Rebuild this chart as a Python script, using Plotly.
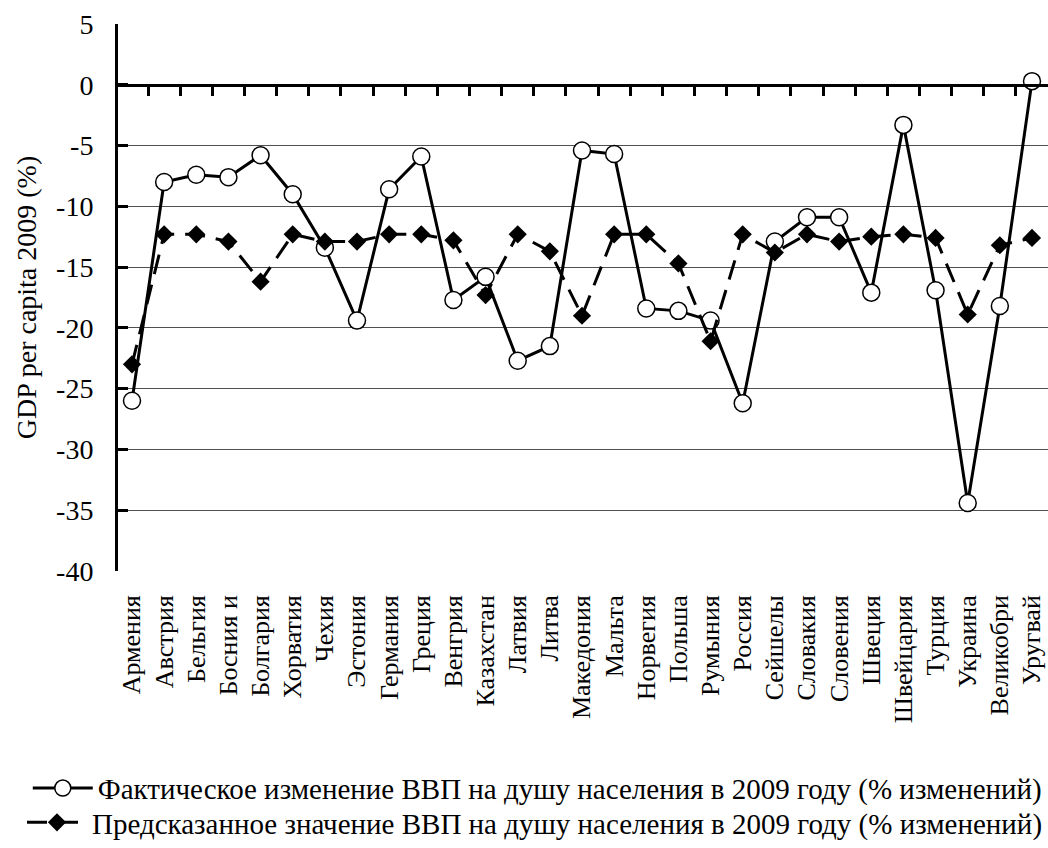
import plotly.graph_objects as go

countries = ["Армения", "Австрия", "Бельгия", "Босния и", "Болгария", "Хорватия", "Чехия",
             "Эстония", "Германия", "Греция", "Венгрия", "Казахстан", "Латвия", "Литва",
             "Македония", "Мальта", "Норвегия", "Польша", "Румыния", "Россия", "Сейшелы",
             "Словакия", "Словения", "Швеция", "Швейцария", "Турция", "Украина",
             "Великобри", "Уругвай"]

actual = [-26.0, -8.0, -7.4, -7.6, -5.8, -9.0, -13.4, -19.4, -8.6, -5.9, -17.7, -15.8,
          -22.7, -21.5, -5.4, -5.7, -18.4, -18.6, -19.4, -26.2, -12.9, -10.9, -10.9,
          -17.1, -3.3, -16.9, -34.4, -18.2, 0.3]

predicted = [-23.0, -12.3, -12.3, -12.9, -16.2, -12.3, -12.9, -12.9, -12.3, -12.3, -12.8,
             -17.3, -12.3, -13.7, -19.0, -12.3, -12.3, -14.7, -21.1, -12.3, -13.8, -12.3,
             -12.9, -12.5, -12.3, -12.6, -18.9, -13.2, -12.6]

y_ticks = [5, 0, -5, -10, -15, -20, -25, -30, -35, -40]
y_ticktext = ["5", "0", "-5", "-10", "-15", "-20", "-25", "-30", "-35", "-40"]

name_actual = "Фактическое изменение ВВП на душу населения в 2009 году (% изменений)"
name_pred = "Предсказанное значение ВВП на душу населения в 2009 году (% изменений)"

FONT = "Liberation Serif, 'Times New Roman', serif"
idx = list(range(len(countries)))

fig = go.Figure()
fig.add_trace(go.Scatter(
    x=idx, y=actual, name=name_actual, mode="lines+markers", legend="legend",
    line=dict(color="black", width=3),
    marker=dict(symbol="circle", size=17, color="white", line=dict(color="black", width=1.5)),
    cliponaxis=False,
))
fig.add_trace(go.Scatter(
    x=idx, y=predicted, name=name_pred, mode="lines+markers", legend="legend2",
    line=dict(color="black", width=3, dash="20px,11px"),
    marker=dict(symbol="diamond", size=14, color="black", line=dict(color="black", width=0)),
    cliponaxis=False,
))
# invisible trace to carry the zero-line axis with boundary ticks
fig.add_trace(go.Scatter(x=idx, y=actual, xaxis="x2", mode="none", showlegend=False,
                         hoverinfo="skip", opacity=0))

xr = [-0.4356, 28.498]
zero_pos = (0 - (-40)) / 45.0

legend_common = dict(xanchor="left", yanchor="middle",
                     font=dict(family=FONT, size=29, color="black"),
                     bgcolor="rgba(0,0,0,0)", itemwidth=60)

fig.update_layout(
    width=1048, height=848,
    margin=dict(l=118, r=0, t=24, b=271),
    paper_bgcolor="white", plot_bgcolor="white",
    font=dict(family=FONT, size=28, color="black"),
    showlegend=True,
    hovermode=False,
    legend=dict(x=-0.097, y=-0.397, **legend_common),
    legend2=dict(x=-0.097, y=-0.461, **legend_common),
    xaxis=dict(
        range=xr, tickmode="array", tickvals=idx, ticktext=countries,
        tickangle=-90, showgrid=False, zeroline=False, showline=False, ticks="",
        ticklabelstandoff=18, ticklabeloverflow="allow",
        tickfont=dict(family=FONT, size=26, color="black"), automargin=False,
    ),
    xaxis2=dict(
        range=xr, overlaying="x", anchor="free", position=zero_pos, side="bottom",
        showline=True, linecolor="black", linewidth=3,
        tickmode="array", tickvals=[i + 0.5 for i in idx[:-1]],
        ticks="outside", ticklen=9, tickwidth=3, tickcolor="black",
        showticklabels=False, showgrid=False, zeroline=False, automargin=False,
    ),
    yaxis=dict(
        range=[-40, 5], tickmode="array", tickvals=y_ticks, ticktext=y_ticktext,
        showgrid=True, gridcolor="#505050", gridwidth=1, zeroline=False,
        showline=True, linecolor="black", linewidth=3,
        ticks="inside", ticklen=10, tickwidth=3, tickcolor="black",
        ticklabelstandoff=16, automargin=False,
        tickfont=dict(family=FONT, size=28, color="black"),
        title=dict(text="GDP per capita 2009 (%)", font=dict(family=FONT, size=28, color="black"),
                   standoff=12),
    ),
)

fig.write_html("out.html", config={"displayModeBar": False, "staticPlot": True},
               post_script="document.body.style.margin='0';document.body.style.overflow='hidden';")
